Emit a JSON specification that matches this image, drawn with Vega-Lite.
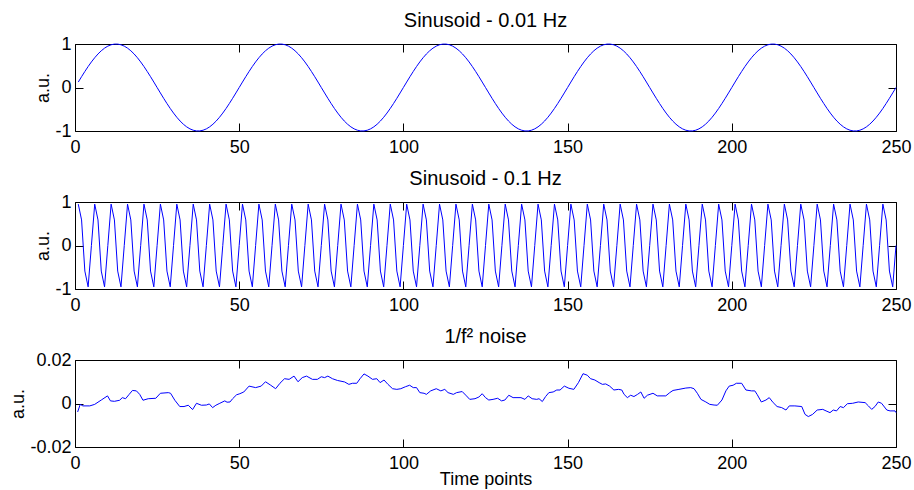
{
 "$schema": "https://vega.github.io/schema/vega-lite/v6.json",
 "padding": {"left": 9, "top": 10, "right": 0, "bottom": 2},
 "background": "white",
 "spacing": 11,
 "config": {
  "font": "Liberation Sans",
  "view": {"stroke": "black", "strokeWidth": 1},
  "axis": {"labelFont": "Liberation Sans", "labelFontSize": 18, "labelColor": "black", "titleFont": "Liberation Sans", "titleFontSize": 18, "titleFontWeight": "normal", "titleColor": "black", "grid": false, "domain": false, "tickColor": "black", "tickSize": -8, "labelPadding": 12, "titlePadding": 2, "labelFlush": false, "labelOverlap": false, "labelExpr": "'' + datum.value"},
  "axisX": {"labelPadding": 15},
  "title": {"font": "Liberation Sans", "fontSize": 20, "fontWeight": "normal", "color": "black", "offset": 0}
 },
 "datasets": {
  "sines": [
{"t":1,"a":0.1253,"b":0.9511},{"t":2,"a":0.2487,"b":0.5878},{"t":3,"a":0.3681,"b":-0.5878},{"t":4,"a":0.4818,"b":-0.9511},{"t":5,"a":0.5878,"b":0},
{"t":6,"a":0.6845,"b":0.9511},{"t":7,"a":0.7705,"b":0.5878},{"t":8,"a":0.8443,"b":-0.5878},{"t":9,"a":0.9048,"b":-0.9511},{"t":10,"a":0.9511,"b":0},
{"t":11,"a":0.9823,"b":0.9511},{"t":12,"a":0.998,"b":0.5878},{"t":13,"a":0.998,"b":-0.5878},{"t":14,"a":0.9823,"b":-0.9511},{"t":15,"a":0.9511,"b":0},
{"t":16,"a":0.9048,"b":0.9511},{"t":17,"a":0.8443,"b":0.5878},{"t":18,"a":0.7705,"b":-0.5878},{"t":19,"a":0.6845,"b":-0.9511},{"t":20,"a":0.5878,"b":0},
{"t":21,"a":0.4818,"b":0.9511},{"t":22,"a":0.3681,"b":0.5878},{"t":23,"a":0.2487,"b":-0.5878},{"t":24,"a":0.1253,"b":-0.9511},{"t":25,"a":0,"b":0},
{"t":26,"a":-0.1253,"b":0.9511},{"t":27,"a":-0.2487,"b":0.5878},{"t":28,"a":-0.3681,"b":-0.5878},{"t":29,"a":-0.4818,"b":-0.9511},{"t":30,"a":-0.5878,"b":0},
{"t":31,"a":-0.6845,"b":0.9511},{"t":32,"a":-0.7705,"b":0.5878},{"t":33,"a":-0.8443,"b":-0.5878},{"t":34,"a":-0.9048,"b":-0.9511},{"t":35,"a":-0.9511,"b":0},
{"t":36,"a":-0.9823,"b":0.9511},{"t":37,"a":-0.998,"b":0.5878},{"t":38,"a":-0.998,"b":-0.5878},{"t":39,"a":-0.9823,"b":-0.9511},{"t":40,"a":-0.9511,"b":0},
{"t":41,"a":-0.9048,"b":0.9511},{"t":42,"a":-0.8443,"b":0.5878},{"t":43,"a":-0.7705,"b":-0.5878},{"t":44,"a":-0.6845,"b":-0.9511},{"t":45,"a":-0.5878,"b":0},
{"t":46,"a":-0.4818,"b":0.9511},{"t":47,"a":-0.3681,"b":0.5878},{"t":48,"a":-0.2487,"b":-0.5878},{"t":49,"a":-0.1253,"b":-0.9511},{"t":50,"a":0,"b":0},
{"t":51,"a":0.1253,"b":0.9511},{"t":52,"a":0.2487,"b":0.5878},{"t":53,"a":0.3681,"b":-0.5878},{"t":54,"a":0.4818,"b":-0.9511},{"t":55,"a":0.5878,"b":0},
{"t":56,"a":0.6845,"b":0.9511},{"t":57,"a":0.7705,"b":0.5878},{"t":58,"a":0.8443,"b":-0.5878},{"t":59,"a":0.9048,"b":-0.9511},{"t":60,"a":0.9511,"b":0},
{"t":61,"a":0.9823,"b":0.9511},{"t":62,"a":0.998,"b":0.5878},{"t":63,"a":0.998,"b":-0.5878},{"t":64,"a":0.9823,"b":-0.9511},{"t":65,"a":0.9511,"b":0},
{"t":66,"a":0.9048,"b":0.9511},{"t":67,"a":0.8443,"b":0.5878},{"t":68,"a":0.7705,"b":-0.5878},{"t":69,"a":0.6845,"b":-0.9511},{"t":70,"a":0.5878,"b":0},
{"t":71,"a":0.4818,"b":0.9511},{"t":72,"a":0.3681,"b":0.5878},{"t":73,"a":0.2487,"b":-0.5878},{"t":74,"a":0.1253,"b":-0.9511},{"t":75,"a":0,"b":0},
{"t":76,"a":-0.1253,"b":0.9511},{"t":77,"a":-0.2487,"b":0.5878},{"t":78,"a":-0.3681,"b":-0.5878},{"t":79,"a":-0.4818,"b":-0.9511},{"t":80,"a":-0.5878,"b":0},
{"t":81,"a":-0.6845,"b":0.9511},{"t":82,"a":-0.7705,"b":0.5878},{"t":83,"a":-0.8443,"b":-0.5878},{"t":84,"a":-0.9048,"b":-0.9511},{"t":85,"a":-0.9511,"b":0},
{"t":86,"a":-0.9823,"b":0.9511},{"t":87,"a":-0.998,"b":0.5878},{"t":88,"a":-0.998,"b":-0.5878},{"t":89,"a":-0.9823,"b":-0.9511},{"t":90,"a":-0.9511,"b":0},
{"t":91,"a":-0.9048,"b":0.9511},{"t":92,"a":-0.8443,"b":0.5878},{"t":93,"a":-0.7705,"b":-0.5878},{"t":94,"a":-0.6845,"b":-0.9511},{"t":95,"a":-0.5878,"b":0},
{"t":96,"a":-0.4818,"b":0.9511},{"t":97,"a":-0.3681,"b":0.5878},{"t":98,"a":-0.2487,"b":-0.5878},{"t":99,"a":-0.1253,"b":-0.9511},{"t":100,"a":0,"b":0},
{"t":101,"a":0.1253,"b":0.9511},{"t":102,"a":0.2487,"b":0.5878},{"t":103,"a":0.3681,"b":-0.5878},{"t":104,"a":0.4818,"b":-0.9511},{"t":105,"a":0.5878,"b":0},
{"t":106,"a":0.6845,"b":0.9511},{"t":107,"a":0.7705,"b":0.5878},{"t":108,"a":0.8443,"b":-0.5878},{"t":109,"a":0.9048,"b":-0.9511},{"t":110,"a":0.9511,"b":0},
{"t":111,"a":0.9823,"b":0.9511},{"t":112,"a":0.998,"b":0.5878},{"t":113,"a":0.998,"b":-0.5878},{"t":114,"a":0.9823,"b":-0.9511},{"t":115,"a":0.9511,"b":0},
{"t":116,"a":0.9048,"b":0.9511},{"t":117,"a":0.8443,"b":0.5878},{"t":118,"a":0.7705,"b":-0.5878},{"t":119,"a":0.6845,"b":-0.9511},{"t":120,"a":0.5878,"b":0},
{"t":121,"a":0.4818,"b":0.9511},{"t":122,"a":0.3681,"b":0.5878},{"t":123,"a":0.2487,"b":-0.5878},{"t":124,"a":0.1253,"b":-0.9511},{"t":125,"a":0,"b":0},
{"t":126,"a":-0.1253,"b":0.9511},{"t":127,"a":-0.2487,"b":0.5878},{"t":128,"a":-0.3681,"b":-0.5878},{"t":129,"a":-0.4818,"b":-0.9511},{"t":130,"a":-0.5878,"b":0},
{"t":131,"a":-0.6845,"b":0.9511},{"t":132,"a":-0.7705,"b":0.5878},{"t":133,"a":-0.8443,"b":-0.5878},{"t":134,"a":-0.9048,"b":-0.9511},{"t":135,"a":-0.9511,"b":0},
{"t":136,"a":-0.9823,"b":0.9511},{"t":137,"a":-0.998,"b":0.5878},{"t":138,"a":-0.998,"b":-0.5878},{"t":139,"a":-0.9823,"b":-0.9511},{"t":140,"a":-0.9511,"b":0},
{"t":141,"a":-0.9048,"b":0.9511},{"t":142,"a":-0.8443,"b":0.5878},{"t":143,"a":-0.7705,"b":-0.5878},{"t":144,"a":-0.6845,"b":-0.9511},{"t":145,"a":-0.5878,"b":0},
{"t":146,"a":-0.4818,"b":0.9511},{"t":147,"a":-0.3681,"b":0.5878},{"t":148,"a":-0.2487,"b":-0.5878},{"t":149,"a":-0.1253,"b":-0.9511},{"t":150,"a":0,"b":0},
{"t":151,"a":0.1253,"b":0.9511},{"t":152,"a":0.2487,"b":0.5878},{"t":153,"a":0.3681,"b":-0.5878},{"t":154,"a":0.4818,"b":-0.9511},{"t":155,"a":0.5878,"b":0},
{"t":156,"a":0.6845,"b":0.9511},{"t":157,"a":0.7705,"b":0.5878},{"t":158,"a":0.8443,"b":-0.5878},{"t":159,"a":0.9048,"b":-0.9511},{"t":160,"a":0.9511,"b":0},
{"t":161,"a":0.9823,"b":0.9511},{"t":162,"a":0.998,"b":0.5878},{"t":163,"a":0.998,"b":-0.5878},{"t":164,"a":0.9823,"b":-0.9511},{"t":165,"a":0.9511,"b":0},
{"t":166,"a":0.9048,"b":0.9511},{"t":167,"a":0.8443,"b":0.5878},{"t":168,"a":0.7705,"b":-0.5878},{"t":169,"a":0.6845,"b":-0.9511},{"t":170,"a":0.5878,"b":0},
{"t":171,"a":0.4818,"b":0.9511},{"t":172,"a":0.3681,"b":0.5878},{"t":173,"a":0.2487,"b":-0.5878},{"t":174,"a":0.1253,"b":-0.9511},{"t":175,"a":0,"b":0},
{"t":176,"a":-0.1253,"b":0.9511},{"t":177,"a":-0.2487,"b":0.5878},{"t":178,"a":-0.3681,"b":-0.5878},{"t":179,"a":-0.4818,"b":-0.9511},{"t":180,"a":-0.5878,"b":0},
{"t":181,"a":-0.6845,"b":0.9511},{"t":182,"a":-0.7705,"b":0.5878},{"t":183,"a":-0.8443,"b":-0.5878},{"t":184,"a":-0.9048,"b":-0.9511},{"t":185,"a":-0.9511,"b":0},
{"t":186,"a":-0.9823,"b":0.9511},{"t":187,"a":-0.998,"b":0.5878},{"t":188,"a":-0.998,"b":-0.5878},{"t":189,"a":-0.9823,"b":-0.9511},{"t":190,"a":-0.9511,"b":0},
{"t":191,"a":-0.9048,"b":0.9511},{"t":192,"a":-0.8443,"b":0.5878},{"t":193,"a":-0.7705,"b":-0.5878},{"t":194,"a":-0.6845,"b":-0.9511},{"t":195,"a":-0.5878,"b":0},
{"t":196,"a":-0.4818,"b":0.9511},{"t":197,"a":-0.3681,"b":0.5878},{"t":198,"a":-0.2487,"b":-0.5878},{"t":199,"a":-0.1253,"b":-0.9511},{"t":200,"a":0,"b":0},
{"t":201,"a":0.1253,"b":0.9511},{"t":202,"a":0.2487,"b":0.5878},{"t":203,"a":0.3681,"b":-0.5878},{"t":204,"a":0.4818,"b":-0.9511},{"t":205,"a":0.5878,"b":0},
{"t":206,"a":0.6845,"b":0.9511},{"t":207,"a":0.7705,"b":0.5878},{"t":208,"a":0.8443,"b":-0.5878},{"t":209,"a":0.9048,"b":-0.9511},{"t":210,"a":0.9511,"b":0},
{"t":211,"a":0.9823,"b":0.9511},{"t":212,"a":0.998,"b":0.5878},{"t":213,"a":0.998,"b":-0.5878},{"t":214,"a":0.9823,"b":-0.9511},{"t":215,"a":0.9511,"b":0},
{"t":216,"a":0.9048,"b":0.9511},{"t":217,"a":0.8443,"b":0.5878},{"t":218,"a":0.7705,"b":-0.5878},{"t":219,"a":0.6845,"b":-0.9511},{"t":220,"a":0.5878,"b":0},
{"t":221,"a":0.4818,"b":0.9511},{"t":222,"a":0.3681,"b":0.5878},{"t":223,"a":0.2487,"b":-0.5878},{"t":224,"a":0.1253,"b":-0.9511},{"t":225,"a":0,"b":0},
{"t":226,"a":-0.1253,"b":0.9511},{"t":227,"a":-0.2487,"b":0.5878},{"t":228,"a":-0.3681,"b":-0.5878},{"t":229,"a":-0.4818,"b":-0.9511},{"t":230,"a":-0.5878,"b":0},
{"t":231,"a":-0.6845,"b":0.9511},{"t":232,"a":-0.7705,"b":0.5878},{"t":233,"a":-0.8443,"b":-0.5878},{"t":234,"a":-0.9048,"b":-0.9511},{"t":235,"a":-0.9511,"b":0},
{"t":236,"a":-0.9823,"b":0.9511},{"t":237,"a":-0.998,"b":0.5878},{"t":238,"a":-0.998,"b":-0.5878},{"t":239,"a":-0.9823,"b":-0.9511},{"t":240,"a":-0.9511,"b":0},
{"t":241,"a":-0.9048,"b":0.9511},{"t":242,"a":-0.8443,"b":0.5878},{"t":243,"a":-0.7705,"b":-0.5878},{"t":244,"a":-0.6845,"b":-0.9511},{"t":245,"a":-0.5878,"b":0},
{"t":246,"a":-0.4818,"b":0.9511},{"t":247,"a":-0.3681,"b":0.5878},{"t":248,"a":-0.2487,"b":-0.5878},{"t":249,"a":-0.1253,"b":-0.9511},{"t":250,"a":0,"b":0}
  ],
  "noise": [
{"t":0.8,"v":-0.0039},{"t":1.6,"v":-0.0004},{"t":2.4,"v":-0.0011},{"t":4.5,"v":-0.0011},{"t":6,"v":-0.0004},{"t":8,"v":0.0016},{"t":9.9,"v":0.0035},{"t":10.8,"v":0.0012},{"t":12,"v":0.001},{"t":13.6,"v":0.0015},
{"t":14.4,"v":0.0027},{"t":15.4,"v":0.0022},{"t":16.5,"v":0.0042},{"t":17.5,"v":0.006},{"t":18.7,"v":0.0058},{"t":19.7,"v":0.0042},{"t":20.7,"v":0.0015},{"t":22.3,"v":0.0022},{"t":24.6,"v":0.0024},{"t":26,"v":0.0047},
{"t":28.4,"v":0.005},{"t":29.1,"v":0.0047},{"t":30.4,"v":0.0015},{"t":31.9,"v":-0.0014},{"t":33.2,"v":-0.0014},{"t":34.5,"v":-0.0008},{"t":35.8,"v":-0.0028},{"t":37,"v":0.0001},{"t":38.5,"v":-0.0008},{"t":40,"v":-0.0007},
{"t":40.9,"v":-0.0002},{"t":41.9,"v":-0.0019},{"t":42.9,"v":-0.0008},{"t":44.1,"v":0.0001},{"t":45.6,"v":0.0012},{"t":46.3,"v":0.0006},{"t":47.2,"v":0.0007},{"t":48,"v":0.0022},{"t":49.2,"v":0.004},{"t":50.2,"v":0.0045},
{"t":51.4,"v":0.0053},{"t":53,"v":0.008},{"t":55,"v":0.0073},{"t":56.7,"v":0.008},{"t":58,"v":0.01},{"t":59.6,"v":0.0084},{"t":61.1,"v":0.0068},{"t":62.4,"v":0.0093},{"t":63.8,"v":0.0114},{"t":65.2,"v":0.0111},
{"t":66.7,"v":0.0126},{"t":67.9,"v":0.01},{"t":69.2,"v":0.0119},{"t":70.5,"v":0.0126},{"t":72.3,"v":0.0111},{"t":73.8,"v":0.0111},{"t":75,"v":0.0123},{"t":76,"v":0.0119},{"t":77,"v":0.0126},{"t":78.4,"v":0.0114},
{"t":79.9,"v":0.0106},{"t":82.1,"v":0.0099},{"t":83.4,"v":0.0088},{"t":84.5,"v":0.0093},{"t":85.8,"v":0.0093},{"t":86.8,"v":0.0114},{"t":88,"v":0.0136},{"t":89.2,"v":0.0126},{"t":90.6,"v":0.0111},{"t":91.9,"v":0.0114},
{"t":92.9,"v":0.0096},{"t":94.1,"v":0.0108},{"t":95.3,"v":0.0088},{"t":96.7,"v":0.0068},{"t":98,"v":0.0065},{"t":99.2,"v":0.0068},{"t":100.6,"v":0.0077},{"t":101.9,"v":0.0084},{"t":103,"v":0.0073},{"t":104,"v":0.0073},
{"t":105,"v":0.005},{"t":106.3,"v":0.0047},{"t":107,"v":0.0042},{"t":108.3,"v":0.0058},{"t":110,"v":0.0068},{"t":111.4,"v":0.0058},{"t":112.6,"v":0.0065},{"t":113.6,"v":0.005},{"t":115.2,"v":0.0042},{"t":116.2,"v":0.005},
{"t":117.9,"v":0.0055},{"t":119.2,"v":0.0035},{"t":120.2,"v":0.0019},{"t":121.8,"v":0.0022},{"t":123,"v":0.003},{"t":124,"v":0.0045},{"t":125,"v":0.0027},{"t":126,"v":0.0016},{"t":127.3,"v":0.0019},{"t":128.7,"v":0.0024},
{"t":129.9,"v":0.0012},{"t":130.9,"v":0.0016},{"t":132.1,"v":0.0038},{"t":133.4,"v":0.0027},{"t":135.8,"v":0.0027},{"t":137,"v":0.0019},{"t":138,"v":0.0035},{"t":139.2,"v":0.0022},{"t":140.6,"v":0.0019},{"t":141.3,"v":0.0022},
{"t":142.3,"v":0.0009},{"t":143.3,"v":0.0032},{"t":144.3,"v":0.005},{"t":145.6,"v":0.0053},{"t":146.7,"v":0.0062},{"t":147.7,"v":0.0062},{"t":149,"v":0.008},{"t":150.4,"v":0.007},{"t":151.9,"v":0.0065},{"t":153.3,"v":0.0096},
{"t":154.7,"v":0.0137},{"t":156,"v":0.013},{"t":157,"v":0.0114},{"t":158.3,"v":0.0108},{"t":159.6,"v":0.0096},{"t":160.6,"v":0.0088},{"t":161.6,"v":0.009},{"t":162.8,"v":0.008},{"t":164.1,"v":0.0062},{"t":165.5,"v":0.0065},
{"t":166.5,"v":0.0062},{"t":167.2,"v":0.0042},{"t":168.2,"v":0.0027},{"t":169.2,"v":0.0038},{"t":170.2,"v":0.0032},{"t":171.3,"v":0.0042},{"t":172.3,"v":0.0053},{"t":173.3,"v":0.0024},{"t":174.3,"v":0.0038},{"t":176,"v":0.0047},
{"t":177.3,"v":0.0035},{"t":179.9,"v":0.0035},{"t":181.1,"v":0.005},{"t":182.1,"v":0.006},{"t":183.9,"v":0.0065},{"t":186,"v":0.0071},{"t":187.5,"v":0.0073},{"t":188.5,"v":0.0068},{"t":189.5,"v":0.0047},{"t":190.6,"v":0.0019},
{"t":192.1,"v":0.0007},{"t":193.3,"v":-0.0004},{"t":194.6,"v":-0.0007},{"t":195.6,"v":-0.0008},{"t":197,"v":0.0016},{"t":198.2,"v":0.0058},{"t":199.2,"v":0.008},{"t":200.4,"v":0.0084},{"t":201.4,"v":0.0093},{"t":203,"v":0.0093},
{"t":204.3,"v":0.0062},{"t":206,"v":0.0058},{"t":207,"v":0.0058},{"t":207.7,"v":0.0042},{"t":209,"v":0.0007},{"t":210.4,"v":0.0016},{"t":211.4,"v":0.0027},{"t":212.6,"v":0.0004},{"t":213.8,"v":-0.0014},{"t":215.2,"v":-0.0019},
{"t":216.5,"v":-0.003},{"t":217.5,"v":-0.0011},{"t":219.2,"v":-0.0011},{"t":221.3,"v":-0.0014},{"t":222.3,"v":-0.005},{"t":223.3,"v":-0.006},{"t":224.6,"v":-0.005},{"t":226,"v":-0.003},{"t":227.7,"v":-0.0027},{"t":228.7,"v":-0.0034},
{"t":229.9,"v":-0.0042},{"t":230.9,"v":-0.003},{"t":231.9,"v":-0.0034},{"t":233,"v":-0.0014},{"t":234,"v":-0.0019},{"t":235.2,"v":-0.0001},{"t":236.8,"v":0.0001},{"t":238.5,"v":0.0007},{"t":240.6,"v":0.0004},{"t":241.6,"v":-0.0011},
{"t":242.6,"v":-0.0027},{"t":243.6,"v":-0.0014},{"t":244.6,"v":0.0007},{"t":245.6,"v":0.0001},{"t":247.2,"v":-0.003},{"t":248.2,"v":-0.0034},{"t":249.7,"v":-0.0034},{"t":250,"v":-0.0042}
  ]
 },
 "vconcat": [
  {
   "title": {"text": "Sinusoid - 0.01 Hz"},
   "width": 821, "height": 87,
   "data": {"name": "sines"},
   "layer": [
    {"mark": {"type": "line", "color": "#0000ff", "strokeWidth": 1},
     "encoding": {
      "x": {"field": "t", "type": "quantitative", "scale": {"domain": [0, 250], "nice": false}, "axis": {"orient": "bottom", "values": [0, 50, 100, 150, 200, 250], "title": null}},
      "y": {"field": "a", "type": "quantitative", "scale": {"domain": [-1, 1], "nice": false}, "axis": {"orient": "left", "values": [-1, 0, 1], "title": "a.u."}}}},
    {"mark": {"type": "line", "opacity": 0},
     "encoding": {
      "x": {"field": "t", "type": "quantitative", "axis": {"orient": "top", "values": [0, 50, 100, 150, 200, 250], "labels": false, "title": null}},
      "y": {"field": "a", "type": "quantitative", "axis": {"orient": "right", "values": [-1, 0, 1], "labels": false, "title": null}}}}
   ],
   "resolve": {"axis": {"x": "independent", "y": "independent"}}
  },
  {
   "title": {"text": "Sinusoid - 0.1 Hz"},
   "width": 821, "height": 87,
   "data": {"name": "sines"},
   "layer": [
    {"mark": {"type": "line", "color": "#0000ff", "strokeWidth": 1},
     "encoding": {
      "x": {"field": "t", "type": "quantitative", "scale": {"domain": [0, 250], "nice": false}, "axis": {"orient": "bottom", "values": [0, 50, 100, 150, 200, 250], "title": null}},
      "y": {"field": "b", "type": "quantitative", "scale": {"domain": [-1, 1], "nice": false}, "axis": {"orient": "left", "values": [-1, 0, 1], "title": "a.u."}}}},
    {"mark": {"type": "line", "opacity": 0},
     "encoding": {
      "x": {"field": "t", "type": "quantitative", "axis": {"orient": "top", "values": [0, 50, 100, 150, 200, 250], "labels": false, "title": null}},
      "y": {"field": "b", "type": "quantitative", "axis": {"orient": "right", "values": [-1, 0, 1], "labels": false, "title": null}}}}
   ],
   "resolve": {"axis": {"x": "independent", "y": "independent"}}
  },
  {
   "title": {"text": "1/f² noise"},
   "width": 821, "height": 87,
   "data": {"name": "noise"},
   "layer": [
    {"mark": {"type": "line", "color": "#0000ff", "strokeWidth": 1},
     "encoding": {
      "x": {"field": "t", "type": "quantitative", "scale": {"domain": [0, 250], "nice": false}, "axis": {"orient": "bottom", "values": [0, 50, 100, 150, 200, 250], "title": "Time points", "titlePadding": -2}},
      "y": {"field": "v", "type": "quantitative", "scale": {"domain": [-0.02, 0.02], "nice": false}, "axis": {"orient": "left", "values": [-0.02, 0, 0.02], "title": "a.u."}}}},
    {"mark": {"type": "line", "opacity": 0},
     "encoding": {
      "x": {"field": "t", "type": "quantitative", "axis": {"orient": "top", "values": [0, 50, 100, 150, 200, 250], "labels": false, "title": null}},
      "y": {"field": "v", "type": "quantitative", "axis": {"orient": "right", "values": [-0.02, 0, 0.02], "labels": false, "title": null}}}}
   ],
   "resolve": {"axis": {"x": "independent", "y": "independent"}}
  }
 ]
}
